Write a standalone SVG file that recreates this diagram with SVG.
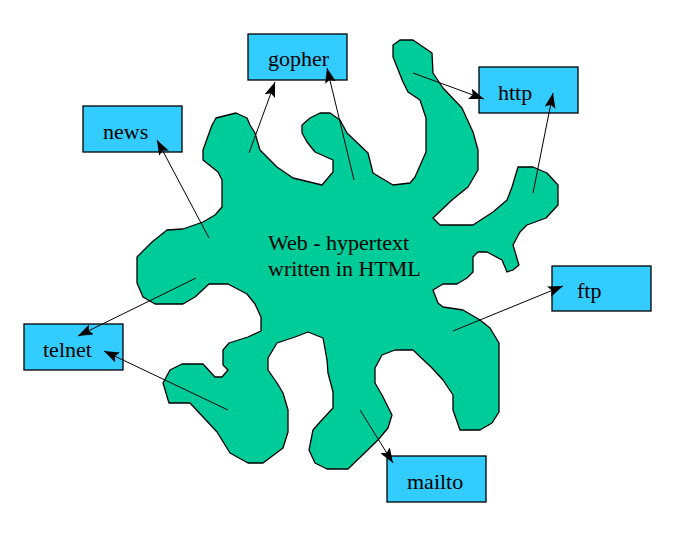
<svg xmlns="http://www.w3.org/2000/svg" width="682" height="535" viewBox="0 0 682 535">
<defs>
<style>
.box{fill:#33CCFF;stroke:#000;stroke-width:1.3}
.lbl{font-family:"Liberation Serif","Times New Roman",serif;font-size:22px;fill:#000}
.cn{stroke:#000;stroke-width:1;fill:none;marker-end:url(#ah)}
</style>
<marker id="ah" markerUnits="userSpaceOnUse" markerWidth="16" markerHeight="12" refX="15" refY="5.5" orient="auto">
<path d="M0,0 L15,5.5 L0,11 L3,5.5 Z" fill="#000"/>
</marker>
</defs>
<rect width="682" height="535" fill="#fff"/>
<g id="web">
<polygon fill="#00CC99" stroke="#000" stroke-width="1.3" stroke-linejoin="round" points="212,125 216,118 236,113 247,118 250,125 255,133 260,150 277,167 293,178 322,185 333,172 333,160 315,152 307,142 302,133 302,125 310,118 320,113 330,113 340,120 347,133 368,153 373,173 393,185 410,183 415,177 426,152 426,118 420,100 408,92 403,82 393,57 393,45 400,40 413,40 432,53 433,73 443,88 462,108 473,132 478,150 478,170 468,187 452,200 433,218 440,225 473,225 493,212 507,200 512,187 518,167 533,167 547,173 558,185 558,205 546,218 527,225 520,232 513,245 519,265 513,270 507,272 502,260 487,252 478,252 473,257 473,272 467,278 457,284 443,284 433,290 438,303 443,307 463,310 480,320 490,328 499,343 499,412 492,423 480,430 460,430 453,410 453,395 443,380 432,368 413,350 395,350 382,355 375,368 375,383 382,395 392,415 388,428 378,440 348,469 327,469 315,463 309,450 313,430 320,422 333,408 333,392 328,373 327,360 323,338 308,332 295,337 277,343 268,358 268,370 277,383 283,393 288,410 288,432 283,448 263,463 248,463 230,453 217,432 190,403 169,403 163,383 170,370 182,364 203,364 215,377 222,377 228,370 223,365 223,350 229,343 248,337 261,331 261,317 255,304 247,294 228,284 209,284 195,297 183,304 155,304 143,297 137,283 137,257 152,242 167,230 183,229 203,222 215,215 222,207 222,180 218,172 203,160 203,150"/>
<text class="lbl" x="268" y="250">Web - hypertext</text>
<text class="lbl" x="268" y="276">written in HTML</text>
</g>
<g id="gopher"><rect class="box" x="248" y="34" width="99" height="46"/><text class="lbl" x="268" y="66">gopher</text></g>
<g id="news"><rect class="box" x="83" y="106" width="99" height="46"/><text class="lbl" x="103" y="139">news</text></g>
<g id="http"><rect class="box" x="479" y="67" width="99" height="46"/><text class="lbl" x="498" y="100">http</text></g>
<g id="ftp"><rect class="box" x="552" y="266" width="99" height="45"/><text class="lbl" x="577" y="298">ftp</text></g>
<g id="telnet"><rect class="box" x="24" y="324" width="99" height="46"/><text class="lbl" x="43" y="357">telnet</text></g>
<g id="mailto"><rect class="box" x="387" y="456" width="99" height="46"/><text class="lbl" x="407" y="489">mailto</text></g>
<g id="connectors">
<line class="cn" x1="249" y1="153" x2="275" y2="82"/>
<line class="cn" x1="354" y1="180" x2="327" y2="68"/>
<line class="cn" x1="209" y1="238" x2="157" y2="140"/>
<line class="cn" x1="413" y1="73" x2="484" y2="99"/>
<line class="cn" x1="533" y1="193" x2="553" y2="93"/>
<line class="cn" x1="453" y1="331" x2="563" y2="286"/>
<line class="cn" x1="196" y1="278" x2="78" y2="336"/>
<line class="cn" x1="228" y1="410" x2="104" y2="351"/>
<line class="cn" x1="360" y1="410" x2="393" y2="463"/>
</g>
</svg>
